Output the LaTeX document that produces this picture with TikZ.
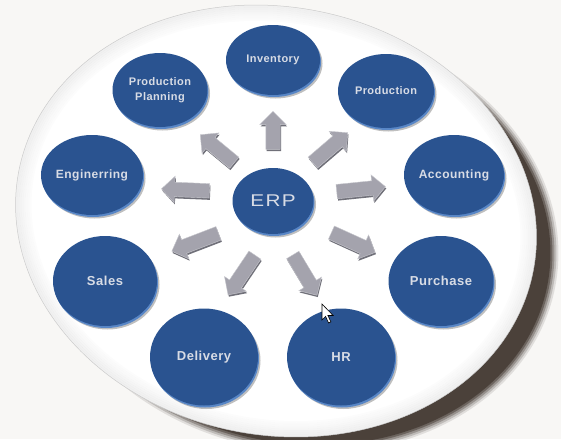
\documentclass[tikz,border=0pt]{standalone}
\usepackage{fontspec}
\setmainfont{Liberation Sans}
\usetikzlibrary{shapes.geometric,shapes.arrows,shadows}
\definecolor{bg}{HTML}{F8F7F5}
\definecolor{discblue}{HTML}{2A5390}
\definecolor{discrim}{HTML}{5886C6}
\definecolor{txt}{HTML}{D8DCE5}
\definecolor{arrowgray}{HTML}{A4A3AD}
\definecolor{arrowdark}{HTML}{707079}
\definecolor{platshadow}{HTML}{3A2F28}
\begin{document}
\begin{tikzpicture}[x=1pt,y=-1pt,
  disc/.style={ellipse, inner sep=0pt, fill=discblue, text=txt, align=center,
    drop shadow={shadow xshift=2.5pt, shadow yshift=-3.5pt, fill=black, opacity=.25},
    general shadow={shadow xshift=1pt, shadow yshift=-2pt, fill=discrim}},
  lab/.style={font=\fontsize{#1}{15}\selectfont\bfseries\addfontfeatures{LetterSpace=4}},
  blockarrow/.style={single arrow, inner xsep=0pt, inner ysep=7pt,
    single arrow head extend=6pt, single arrow tip angle=90,
    fill=arrowgray, draw=arrowgray!60!white, line width=.4pt,
    general shadow={shadow xshift=.8pt, shadow yshift=-1.8pt, fill=arrowdark}},
]
\useasboundingbox (0,0) rectangle (561,439);
\fill[bg] (0,0) rectangle (561,439);

% platform shadow
\begin{scope}[shift={(298,237)}, rotate=-11]
  \foreach \k/\o in {0/.12,-2/.2,-4/.3,-6/.45,-8/.65}
    \fill[platshadow, opacity=\o] (0,0) ellipse [x radius=262+\k, y radius=214+\k];
\end{scope}
% platform
\begin{scope}[shift={(276,221)}, rotate=-11]
  \fill[white] (0,0) ellipse [x radius=262, y radius=214];
  \foreach \k [evaluate=\k as \op using 0.06-0.007*\k] in {0,...,7}
    \draw[black, opacity=\op, line width=2pt] (0,0) ellipse [x radius=261-2*\k, y radius=213-2*\k];
  \draw[gray!40, line width=.5pt] (0,0) ellipse [x radius=262, y radius=214];
\end{scope}

% discs
\node[disc, minimum width=94pt, minimum height=70pt, lab=11] (inv) at (273,60) {Inventory};
\node[disc, minimum width=95pt, minimum height=74pt, lab=11] (pp) at (160,90) {Production\\Planning};
\node[disc, minimum width=96pt, minimum height=74pt, lab=11] (prod) at (386,91) {Production};
\node[disc, minimum width=99pt, minimum height=80pt, lab=12] (eng) at (92,175) {Enginerring};
\node[disc, minimum width=100pt, minimum height=80pt, lab=12] (acc) at (454,175) {Accounting};
\node[disc, minimum width=81pt, minimum height=66pt,
  font=\fontsize{17}{20}\selectfont\addfontfeatures{FakeStretch=1.22,LetterSpace=8}] (erp) at (273,201) {ERP};
\node[disc, minimum width=104pt, minimum height=90pt, lab=13] (sales) at (105,281) {Sales};
\node[disc, minimum width=105pt, minimum height=90pt, lab=13] (pur) at (441,281) {Purchase};
\node[disc, minimum width=108pt, minimum height=97pt, lab=13] (del) at (204,357) {Delivery};
\node[disc, minimum width=108pt, minimum height=97pt, lab=13] (hr) at (341,357) {HR};

% arrows
\node[blockarrow, minimum height=38pt, rotate=90] (a1) at (273,134) {};
\node[blockarrow, minimum height=44pt, rotate=140.5] (a2) at (220,151) {};
\node[blockarrow, minimum height=46pt, rotate=40.6] (a3) at (327.5,150) {};
\node[blockarrow, minimum height=48pt, rotate=177.6] (a4) at (189,190) {};
\node[blockarrow, minimum height=49pt, rotate=5.8] (a5) at (357.5,189.5) {};
\node[blockarrow, minimum height=50pt, rotate=201] (a6) at (198.5,241) {};
\node[blockarrow, minimum height=48pt, rotate=236] (a7) at (243.5,272) {};
\node[blockarrow, minimum height=47pt, rotate=-59] (a8) at (303,272) {};
\node[blockarrow, minimum height=48pt, rotate=-24.4] (a9) at (350,241) {};

% mouse pointer
\coordinate (cursor) at (322,304);
\draw[fill=white, line width=.6pt, line join=miter] (cursor) -- ++(0,16) -- ++(3.6,-3.6)
  -- ++(3,6.6) -- ++(2.3,-1.1) -- ++(-3,-6.4) -- ++(5.2,0) -- cycle;
\end{tikzpicture}
\end{document}
